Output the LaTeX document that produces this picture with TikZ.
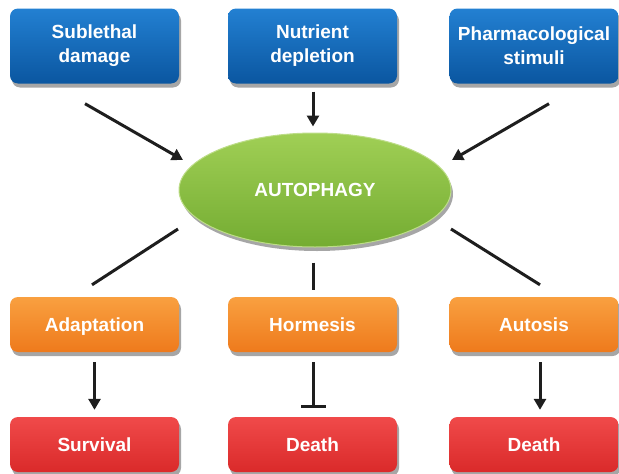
\documentclass[tikz,border=0pt]{standalone}
\usepackage{fontspec}
\setmainfont{Liberation Sans}
\usetikzlibrary{arrows.meta,shapes.geometric,shadows}
\definecolor{blueT}{HTML}{2380D2}
\definecolor{blueB}{HTML}{0A56A0}
\definecolor{orT}{HTML}{F9A040}
\definecolor{orB}{HTML}{EE7A1C}
\definecolor{redT}{HTML}{F04A4A}
\definecolor{redB}{HTML}{DA2A2A}
\definecolor{grT}{HTML}{A0CF55}
\definecolor{grB}{HTML}{74AC32}
\definecolor{arrc}{HTML}{1E1E1E}
\tikzset{
  box/.style={rounded corners=8pt, minimum width=169pt, inner sep=0pt, text=white,
    font=\bfseries\fontsize{19}{24}\selectfont, align=center,
    drop shadow={shadow xshift=2pt, shadow yshift=-4pt, opacity=0.35, fill=black}},
  bluebox/.style={box, minimum height=75pt, top color=blueT, bottom color=blueB},
  onebox/.style={box, minimum height=55pt, text height=13.7pt, text depth=0pt},
  orbox/.style={onebox, top color=orT, bottom color=orB},
  redbox/.style={onebox, top color=redT, bottom color=redB},
  ell/.style={ellipse, minimum width=272pt, minimum height=114pt, inner sep=0pt,
    top color=grT, bottom color=grB, draw=grT!70!white, line width=1pt, text=white,
    font=\bfseries\fontsize{19}{22}\selectfont, text height=13.7pt, text depth=0pt,
    drop shadow={shadow xshift=2pt, shadow yshift=-4pt, opacity=0.35, fill=black}},
  arr/.style={draw=arrc, line width=3pt, -{Triangle[length=11pt,width=12pt]}},
  ln/.style={draw=arrc, line width=3pt},
  tee/.style={draw=arrc, line width=3pt, -{Bar[width=25pt,line width=3pt]}}
}
\begin{document}
\begin{tikzpicture}[x=1pt,y=-1pt]
\useasboundingbox (0,0) rectangle (619,474);
\node[bluebox] (sub) at (94.5,46) {Sublethal\\damage};
\node[bluebox] (nut) at (312.5,46) {Nutrient\\depletion};
\node[bluebox] (pha) at (534,46) {Pharmacological\\stimuli};
\node[ell] (auto) at (315,190) {AUTOPHAGY};
\node[orbox] (ada) at (94.5,324.5) {Adaptation};
\node[orbox] (hor) at (312.5,324.5) {Hormesis};
\node[orbox] (aut) at (534,324.5) {Autosis};
\node[redbox] (sur) at (94.5,444.5) {Survival};
\node[redbox] (de1) at (312.5,444.5) {Death};
\node[redbox] (de2) at (534,444.5) {Death};

\draw[arr] ([shift={(-9.5,20)}]sub.south) -- ([shift={(-132,-30)}]auto.center);
\draw[arr] ([shift={(0.5,8)}]nut.south) -- ([shift={(-2,-6)}]auto.north);
\draw[arr] ([shift={(15,20)}]pha.south) -- ([shift={(137,-30)}]auto.center);
\draw[ln] ([shift={(-137,39)}]auto.center) -- ([shift={(-2.5,-12)}]ada.north);
\draw[ln] ([shift={(-2,15)}]auto.south) -- ([shift={(0.5,-7)}]hor.north);
\draw[ln] ([shift={(136,39)}]auto.center) -- ([shift={(6,-12)}]aut.north);
\draw[arr] ([shift={(0,10)}]ada.south) -- ([shift={(0,-7)}]sur.north);
\draw[tee] ([shift={(0.5,10)}]hor.south) -- ([shift={(0.5,-9)}]de1.north);
\draw[arr] ([shift={(6,10)}]aut.south) -- ([shift={(6,-7)}]de2.north);
\end{tikzpicture}
\end{document}
